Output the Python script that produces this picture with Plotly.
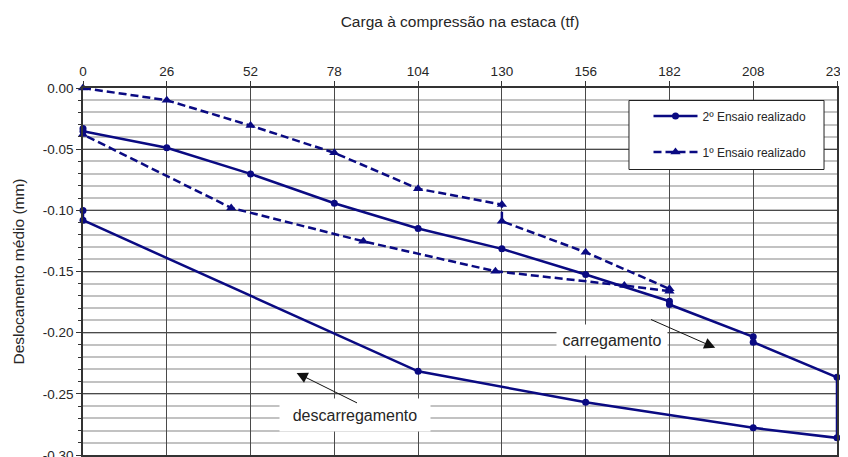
import plotly.graph_objects as go

# ---- data ----
x_ticks = [0, 26, 52, 78, 104, 130, 156, 182, 208, 234]
y_ticks = [0.00, -0.05, -0.10, -0.15, -0.20, -0.25, -0.30]
y_ticklabels = ["0.00", "-0.05", "-0.10", "-0.15", "-0.20", "-0.25", "-0.30"]

ensaio2_load = [0, 0, 26, 52, 78, 104, 130, 156, 182, 182, 208, 208, 234,
                234, 208, 156, 104, 0, 0]
ensaio2_disp = [-0.0331, -0.0353, -0.0489, -0.0702, -0.0942, -0.1149, -0.1315,
                -0.1525, -0.1743, -0.1770, -0.2034, -0.2078, -0.2365,
                -0.2860, -0.2778, -0.2569, -0.2316, -0.1081, -0.1002]

ensaio1_load = [0, 26, 52, 78, 104, 130, 130, 156, 182, 182, 168, 128, 87, 46, 0]
ensaio1_disp = [0.000, -0.0100, -0.0307, -0.0530, -0.0824, -0.0953, -0.1089,
                -0.1343, -0.1642, -0.1661, -0.1615, -0.1498, -0.1253, -0.0980, -0.0380]

name2 = "2º Ensaio realizado"
name1 = "1º Ensaio realizado"
x_title = "Carga à compressão na estaca (tf)"
y_title = "Deslocamento médio (mm)"

NAVY = "#0a0a82"
TXT = "#262626"
FONT = "Liberation Sans, Arial, sans-serif"

fig = go.Figure()
fig.add_trace(go.Scatter(
    x=ensaio2_load, y=ensaio2_disp, name=name2, mode="lines+markers",
    line=dict(color=NAVY, width=2.5),
    marker=dict(symbol="circle", size=7, color=NAVY),
    cliponaxis=False, legendgroup="g2"))
fig.add_trace(go.Scatter(
    x=ensaio1_load, y=ensaio1_disp, name=name1, mode="lines+markers",
    line=dict(color=NAVY, width=2.5, dash="8px,4px"),
    marker=dict(symbol="triangle-up", size=9, color=NAVY),
    cliponaxis=False, legendgroup="g1"))

minor_vals = [round(-0.01 * i, 2) for i in range(31)]

# the page body adds an 8px offset, so the figure is 8px smaller than the window
fig.update_layout(
    width=840, height=449,
    margin=dict(l=75, r=11, t=80, b=2, autoexpand=False),
    paper_bgcolor="white", plot_bgcolor="white",
    font=dict(family=FONT, color=TXT, size=13),
    showlegend=True,
    legend=dict(x=0.750, y=0.963, xanchor="left", yanchor="top",
                bgcolor="rgba(0,0,0,0)", borderwidth=0,
                font=dict(size=12, color=TXT, family=FONT),
                traceorder="grouped", tracegroupgap=17, itemwidth=44),
    xaxis=dict(range=[0, 234], side="top", tickmode="array", tickvals=x_ticks,
               ticktext=[str(v) for v in x_ticks], ticklabeloverflow="allow",
               automargin=False,
               showgrid=True, gridcolor="#4a4a4a", gridwidth=1.2,
               showline=True, linecolor="#333", linewidth=1.5, mirror=True,
               ticks="outside", ticklen=5, tickcolor="#333",
               tickfont=dict(size=13.5, color=TXT),
               zeroline=False,
               title=dict(text=x_title, font=dict(size=15.5, color=TXT), standoff=32)),
    yaxis=dict(range=[-0.30, 0.0], tickmode="array", tickvals=y_ticks,
               ticktext=y_ticklabels, ticklabeloverflow="allow",
               automargin=False,
               showgrid=True, gridcolor="#4a4a4a", gridwidth=1.4,
               showline=True, linecolor="#333", linewidth=1.5, mirror=True,
               ticks="outside", ticklen=5, tickcolor="#333",
               tickfont=dict(size=13.5, color=TXT),
               zeroline=False,
               minor=dict(tickmode="array", tickvals=minor_vals, showgrid=True,
                          gridcolor="#c2c2c2", gridwidth=2, ticks="outside",
                          ticklen=3, tickcolor="#333"),
               title=dict(text=y_title, font=dict(size=15.5, color=TXT), standoff=14)),
)

# legend frame
fig.add_shape(type="rect", xref="paper", yref="paper",
              x0=0.7241, x1=0.9828, y0=0.7779, y1=0.9659,
              line=dict(color="#222", width=1), fillcolor="white", layer="above")

# annotation texts with white boxes
fig.add_annotation(x=164.2, y=-0.2056, xref="x", yref="y", text="carregamento",
                   showarrow=False, bgcolor="white", width=108, height=28,
                   font=dict(size=16, color=TXT, family=FONT))
fig.add_annotation(x=84.4, y=-0.2674, xref="x", yref="y", text="descarregamento",
                   showarrow=False, bgcolor="white", width=148, height=30,
                   font=dict(size=16, color=TXT, family=FONT))
# arrows
fig.add_annotation(x=196.2, y=-0.2124, ax=175.8, ay=-0.1887, xref="x", yref="y",
                   axref="x", ayref="y", text="", showarrow=True, arrowhead=2,
                   arrowsize=2.2, arrowwidth=1, arrowcolor="#111", standoff=0)
fig.add_annotation(x=66.3, y=-0.2329, ax=85.5, ay=-0.258, xref="x", yref="y",
                   axref="x", ayref="y", text="", showarrow=True, arrowhead=2,
                   arrowsize=2.2, arrowwidth=1, arrowcolor="#111", standoff=0)

fig.write_html("out.html")
